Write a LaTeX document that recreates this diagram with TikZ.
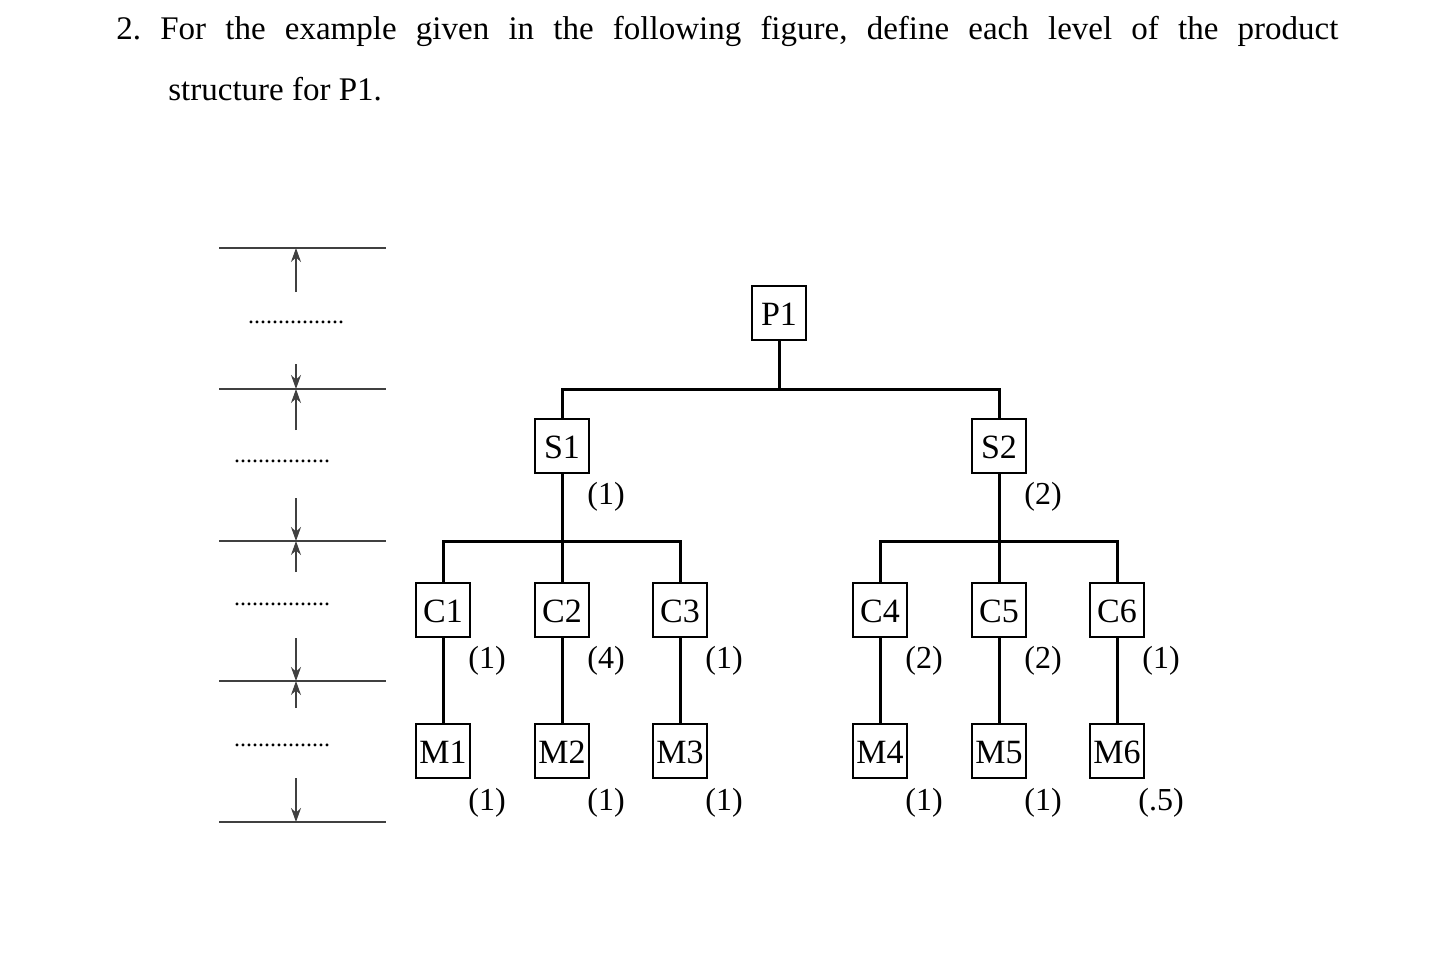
\documentclass[tikz,border=0pt]{standalone}
\usepackage{fontspec}
\setmainfont{Liberation Serif}
\usetikzlibrary{arrows.meta}
\begin{document}
\begin{tikzpicture}[x=0.5pt,y=-0.5pt,
  box/.style={draw,line width=0.7pt,minimum width=27pt,minimum height=27pt,inner sep=0pt,text height=12pt,text depth=0pt,font=\fontsize{17}{17}\selectfont},
  qty/.style={font=\fontsize{16}{16}\selectfont},
  tree/.style={line width=1.5pt},
  lvl/.style={line width=0.6pt,draw=black!75},
  arr/.style={line width=0.6pt,draw=black!75,-{Stealth[length=7pt,width=5pt]}},
  dots/.style={font=\fontsize{12}{12}\selectfont}]
\useasboundingbox (0,0) rectangle (1443,966);
\node[anchor=west,inner sep=0pt,font=\fontsize{16.5}{16.5}\selectfont] (h1) at (116,31) {\hbox to 611pt{2.\hfill For\hfill the\hfill example\hfill given\hfill in\hfill the\hfill following\hfill figure,\hfill define\hfill each\hfill level\hfill of\hfill the\hfill product}};
\node[anchor=west,inner sep=0pt,font=\fontsize{16.5}{16.5}\selectfont] (h2) at (168,89) {structure for P1.};
% tree
\node[box] (P1) at (779,313) {P1};
\node[box] (S1) at (562,446) {S1};
\node[box] (S2) at (999,446) {S2};
\foreach \n/\x in {1/443,2/562,3/680,4/880,5/999,6/1117}{
  \node[box] (C\n) at (\x,610) {C\n};
  \node[box] (M\n) at (\x,751) {M\n};
  \draw[tree] (C\n) -- (M\n);
}
\coordinate (j0) at (779,389);
\draw[tree] (P1) -- (j0);
\draw[tree] (S1) |- (j0) -| (S2);
\coordinate (j1) at (562,541);
\coordinate (j2) at (999,541);
\draw[tree] (S1) -- (C2);
\draw[tree] (C1) |- (j1) -| (C3);
\draw[tree] (S2) -- (C5);
\draw[tree] (C4) |- (j2) -| (C6);
\node[qty] (q1) at (606,497) {(1)};
\node[qty] (q2) at (1043,497) {(2)};
\foreach \n/\x/\a/\b in {1/443/(1)/(1),2/562/(4)/(1),3/680/(1)/(1),4/880/(2)/(1),5/999/(2)/(1),6/1117/(1)/(.5)}{
  \node[qty] (qc\n) at (\x+44,661) {\a};
  \node[qty] (qm\n) at (\x+44,803) {\b};
}
% levels
\foreach \i/\y in {a/248,b/389,c/541,d/681,e/822}{
  \coordinate (La\i) at (219,\y); \coordinate (Lb\i) at (386,\y);
  \draw[lvl] (La\i) -- (Lb\i);
  \coordinate (A\i) at (296,\y);
}
\coordinate (t1) at (296,292); \draw[arr] (t1) -- (Aa);
\coordinate (t2) at (296,364); \draw[arr] (t2) -- (Ab);
\coordinate (t3) at (296,430); \draw[arr] (t3) -- (Ab);
\coordinate (t4) at (296,498); \draw[arr] (t4) -- (Ac);
\coordinate (t5) at (296,572); \draw[arr] (t5) -- (Ac);
\coordinate (t6) at (296,638); \draw[arr] (t6) -- (Ad);
\coordinate (t7) at (296,708); \draw[arr] (t7) -- (Ad);
\coordinate (t8) at (296,778); \draw[arr] (t8) -- (Ae);
\node[dots] (d1) at (296,322) {................};
\node[dots] (d2) at (282,461) {................};
\node[dots] (d3) at (282,604) {................};
\node[dots] (d4) at (282,745) {................};
\end{tikzpicture}
\end{document}
